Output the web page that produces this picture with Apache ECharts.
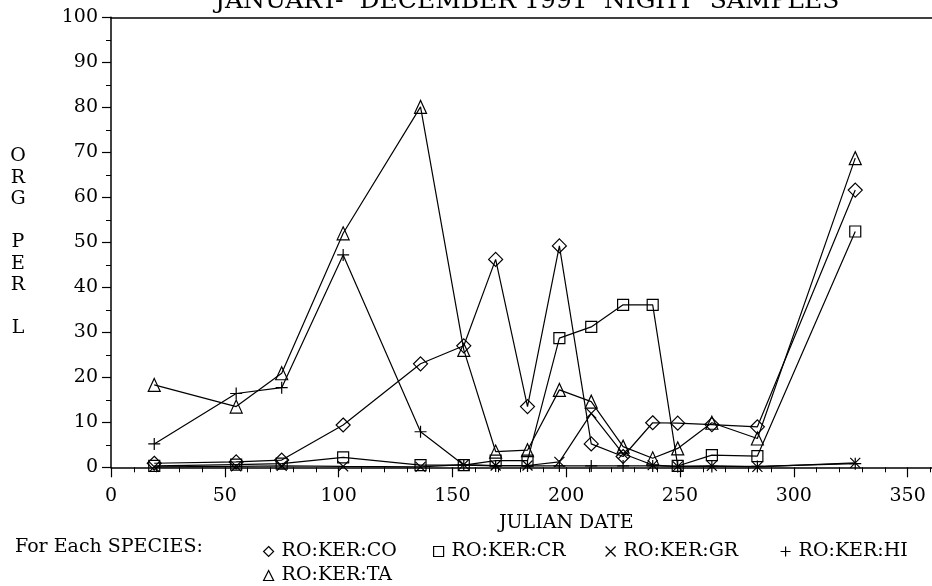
<!DOCTYPE html>
<html>
<head>
<meta charset="utf-8">
<script src="https://cdn.jsdelivr.net/npm/echarts@6/dist/echarts.min.js"></script>
<style>
  html, body { margin: 0; padding: 0; background: #fff; }
  #chart { width: 932px; height: 586px; }
</style>
</head>
<body>
<div id="chart"></div>
<script>
  // sampling dates (julian day) and organisms per litre for each species
  var julianDays = [19, 55, 75, 102, 136, 155, 169, 183, 197, 211, 225, 238, 249, 264, 284, 327]
  var koCO = [0.9, 1.2, 1.6, 9.4, 23.0, 27.0, 46.2, 13.5, 49.2, 5.2, 2.4, 9.9, 9.8, 9.5, 9.0, 61.6]
  var koCR = [0.3, 0.6, 0.8, 2.2, 0.5, 0.5, 1.5, 1.5, 28.7, 31.2, 36.1, 36.1, 0.3, 2.7, 2.5, 52.4]
  var koGR = [0.1, 0.2, 0.3, 0.2, 0.1, 0.6, 0.4, 0.4, 1.2, 12.0, 3.0, 0.5, 0.2, 0.3, 0.1, 1.0]
  var koHI = [5.2, 16.4, 17.7, 47.2, 7.9, 0.5, 0.3, 0.3, 0.3, 0.3, 0.3, 0.3, 0.2, 0.2, 0.2, 0.8]
  var koTA = [18.3, 13.5, 20.9, 52.0, 80.1, 26.1, 3.5, 3.8, 17.2, 14.6, 4.6, 2.0, 4.2, 9.9, 6.4, 68.7]

  var speciesNames = ['RO:KER:CO', 'RO:KER:CR', 'RO:KER:GR', 'RO:KER:HI', 'RO:KER:TA']
  var xTickLabels = [0, 50, 100, 150, 200, 250, 300, 350]
  var yTickLabels = [0, 10, 20, 30, 40, 50, 60, 70, 80, 90, 100]

  var FONT = 'DejaVu Serif'
  var crossPath = 'path://M0 0L10 10M10 0L0 10'
  var plusPath = 'path://M5 0L5 10M0 5L10 5'
  var symbols = ['diamond', 'rect', crossPath, plusPath, 'triangle']

  function makeSeries (name, values, symbol, size) {
    return {
      name: name,
      type: 'line',
      symbol: symbol,
      symbolSize: size,
      data: julianDays.map(function (d, i) { return [d, values[i]] }),
      lineStyle: { color: '#000', width: 1.2 },
      itemStyle: { color: 'rgba(0,0,0,0)', borderColor: '#000', borderWidth: 1.2 },
      emphasis: { disabled: true },
      animation: false
    }
  }

  // one legend box per species so the key sits on the old plotter grid
  var legendSpots = [[258, 537], [428, 537], [600, 537], [775, 537], [258, 561]]
  var legends = speciesNames.map(function (name, i) {
    return {
      left: legendSpots[i][0],
      top: legendSpots[i][1],
      itemWidth: 10,
      itemHeight: 10,
      selectedMode: false,
      data: [{ name: name, icon: symbols[i] }],
      itemStyle: { color: 'rgba(0,0,0,0)', borderColor: '#000', borderWidth: 1.2 },
      textStyle: { fontFamily: FONT, fontSize: 19, color: '#000', padding: [0, 0, 0, 3] }
    }
  })

  var chart = echarts.init(document.getElementById('chart'))
  chart.setOption({
    backgroundColor: '#fff',
    title: {
      text: 'JANUARY-  DECEMBER 1991  NIGHT  SAMPLES',
      left: 210,
      top: -16,
      textStyle: { fontFamily: FONT, fontSize: 25, fontWeight: 'normal', color: '#000' }
    },
    grid: {
      left: 111,
      right: -89.4, // axis runs on past the page edge, like the plot
      top: 17.3,
      bottom: 118.7,
      outerBoundsMode: 'none'
    },
    legend: legends,
    graphic: [
      {
        type: 'text',
        left: 15,
        top: 538,
        style: { text: 'For Each SPECIES:', font: '19px "DejaVu Serif"', fill: '#000' }
      }
    ],
    xAxis: [
      {
        type: 'value',
        min: xTickLabels[0],
        max: 400,
        interval: xTickLabels[1] - xTickLabels[0],
        name: 'JULIAN DATE',
        nameLocation: 'middle',
        nameGap: 56,
        nameTextStyle: { fontFamily: FONT, fontSize: 19, color: '#000', verticalAlign: 'middle' },
        axisLine: { onZero: false, lineStyle: { color: '#000', width: 1.5 } },
        axisTick: { length: 10, lineStyle: { color: '#000', width: 1.2 } },
        minorTick: { show: true, splitNumber: 5, length: 5, lineStyle: { color: '#000', width: 1 } },
        axisLabel: { margin: 19, fontFamily: FONT, fontSize: 19, color: '#000' },
        splitLine: { show: false }
      },
      {
        type: 'value',
        position: 'top',
        min: 0,
        max: 400,
        axisLine: { onZero: false, lineStyle: { color: '#000', width: 1.5 } },
        axisTick: { show: false },
        axisLabel: { show: false },
        splitLine: { show: false }
      }
    ],
    yAxis: {
      type: 'value',
      min: yTickLabels[0],
      max: yTickLabels[yTickLabels.length - 1],
      interval: yTickLabels[1] - yTickLabels[0],
      name: 'O\nR\nG\n\nP\nE\nR\n\nL',
      nameLocation: 'middle',
      nameRotate: 0,
      nameGap: 93,
      nameTextStyle: { fontFamily: FONT, fontSize: 19, color: '#000', lineHeight: 21.5, align: 'center', verticalAlign: 'middle' },
      axisLine: { show: true, lineStyle: { color: '#000', width: 1.5 } },
      axisTick: { length: 9, lineStyle: { color: '#000', width: 1.2 } },
      minorTick: { show: true, splitNumber: 2, length: 5, lineStyle: { color: '#000', width: 1 } },
      axisLabel: { margin: 13, fontFamily: FONT, fontSize: 19, color: '#000' },
      splitLine: { show: false }
    },
    series: [
      makeSeries(speciesNames[0], koCO, symbols[0], 14),
      makeSeries(speciesNames[1], koCR, symbols[1], 11),
      makeSeries(speciesNames[2], koGR, symbols[2], 10),
      makeSeries(speciesNames[3], koHI, symbols[3], 12),
      makeSeries(speciesNames[4], koTA, symbols[4], [12, 13])
    ]
  })
</script>
</body>
</html>
